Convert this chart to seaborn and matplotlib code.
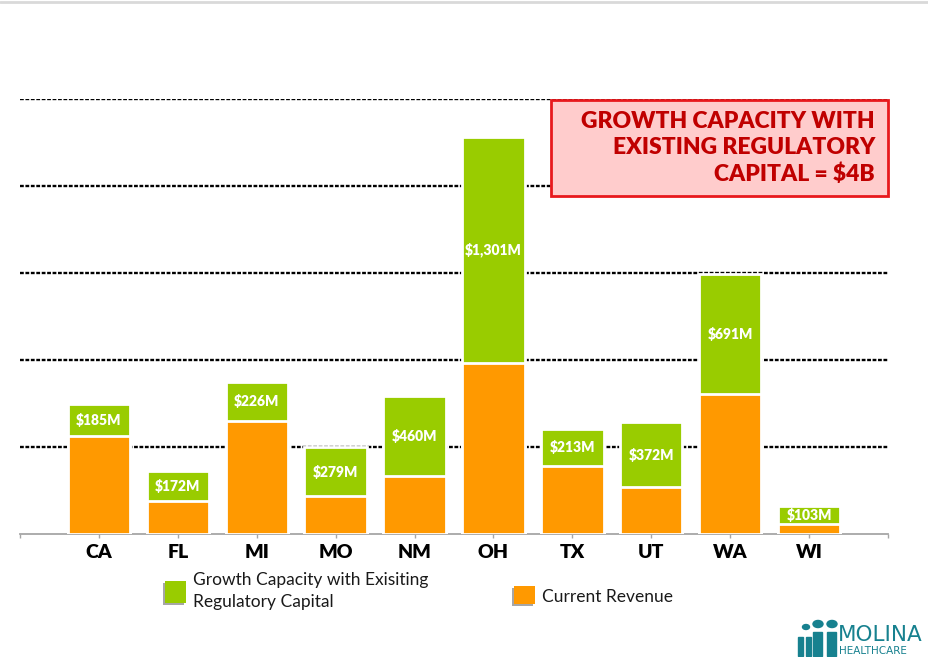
import matplotlib
matplotlib.use("Agg")
import matplotlib.pyplot as plt
import matplotlib.patches as mpatches
import matplotlib.lines as mlines
import seaborn as sns

# data (USD millions)
states = ["CA", "FL", "MI", "MO", "NM", "OH", "TX", "UT", "WA", "WI"]
current_revenue = [563, 190, 650, 219, 333, 983, 391, 270, 805, 58]
growth_capacity = [185, 172, 226, 279, 460, 1301, 213, 372, 691, 103]
growth_labels = ["$185M", "$172M", "$226M", "$279M", "$460M",
                 "$1,301M", "$213M", "$372M", "$691M", "$103M"]
grid_levels = [500, 1000, 1500, 2000, 2500]

GREEN = "#99CC00"
ORANGE = "#FF9900"
W, H = 929, 657

sns.set_style("white")
plt.rcParams["font.family"] = ["Lato", "DejaVu Sans"]

fig = plt.figure(figsize=(W / 100, H / 100), dpi=100)
ax = fig.add_axes([20 / W, 1 - 534 / H, 868 / W, 435 / H])

totals = [r + g for r, g in zip(current_revenue, growth_capacity)]

# green top segment drawn as full height, orange revenue over it
sns.barplot(x=states, y=totals, color=GREEN, saturation=1, width=0.79,
            edgecolor="white", linewidth=2, zorder=3, ax=ax)
sns.barplot(x=states, y=current_revenue, color=ORANGE, saturation=1, width=0.79,
            edgecolor="white", linewidth=2, zorder=4, ax=ax)

for i, (r, g, lab) in enumerate(zip(current_revenue, growth_capacity, growth_labels)):
    ax.text(i, r + g / 2, lab, ha="center", va="center", color="white",
            fontsize=10, fontweight="heavy", zorder=5)

for lvl in grid_levels:
    ax.axhline(lvl, color="black", lw=1.7, ls=(0, (1.6, 0.7)), zorder=1)

ax.set_xlim(-1, 10)
ax.set_ylim(0, 2500)
ax.set_yticks([])
for s in ["left", "right", "top"]:
    ax.spines[s].set_visible(False)
ax.spines["bottom"].set_color("#A6A6A6")
ax.spines["bottom"].set_linewidth(1.3)
ax.spines["bottom"].set_zorder(2)
ax.set_xticks(range(len(states)))
ax.set_xticklabels(states, fontsize=14, fontweight="heavy", color="black")
ax.set_xticks([-1, 10], minor=True)
ax.tick_params(axis="x", which="both", direction="out", length=3, width=1,
               color="#A6A6A6", pad=4, bottom=True)
ax.set_xlabel("")

# callout box
fig.patches.append(mpatches.Rectangle((551 / W, 1 - 196 / H), 337 / W, 96 / H,
                                      transform=fig.transFigure, facecolor="#FFCCCC",
                                      edgecolor="#E8191D", lw=2, zorder=10))
fig.text(875 / W, 1 - 148 / H, "GROWTH CAPACITY WITH\nEXISTING REGULATORY\nCAPITAL = $4B",
         ha="right", va="center", color="#C00000", fontsize=16.5, fontweight="heavy",
         linespacing=1.3, zorder=11)


# legend
def legend_box(x0, y0, w, h, color):
    # grey shadow, offset down-left
    fig.patches.append(mpatches.Rectangle(((x0 - 2) / W, 1 - (y0 + h + 2) / H),
                                          w / W, h / H, transform=fig.transFigure,
                                          facecolor="#A6A6A6", edgecolor="none"))
    fig.patches.append(mpatches.Rectangle((x0 / W, 1 - (y0 + h) / H), w / W, h / H,
                                          transform=fig.transFigure,
                                          facecolor=color, edgecolor="none"))


legend_box(165, 581, 21, 22, GREEN)
legend_box(514, 586, 21, 18, ORANGE)
fig.text(193 / W, 1 - 591 / H, "Growth Capacity with Exisiting\nRegulatory Capital",
         ha="left", va="center", fontsize=12.5, color="#1A1A1A", linespacing=1.4)
fig.text(542 / W, 1 - 597 / H, "Current Revenue", ha="left", va="center",
         fontsize=12.5, color="#1A1A1A")

# logo
TEAL = "#17818F"
for cx, cy, r in [(806, 627, 3.5), (818, 624, 5), (832, 624, 5)]:
    fig.patches.append(mpatches.Circle((cx / W, 1 - cy / H), r / W,
                                       transform=fig.transFigure, color=TEAL))
for x0, x1, y0 in [(798, 803, 637), (806, 811, 637), (813, 822, 632), (827, 836, 632)]:
    fig.patches.append(mpatches.Rectangle((x0 / W, 1 - 656 / H), (x1 - x0) / W,
                                          (656 - y0) / H, transform=fig.transFigure,
                                          color=TEAL))
fig.text(838 / W, 1 - 635 / H, "MOLINA", ha="left", va="center", fontsize=15.5,
         color=TEAL, family=["Liberation Sans Narrow", "DejaVu Sans"])
fig.text(839 / W, 1 - 651 / H, "HEALTHCARE", ha="left", va="center", fontsize=7.5,
         color=TEAL, family=["DejaVu Sans"])

fig.lines.append(mlines.Line2D([0, 1], [1 - 1.5 / H, 1 - 1.5 / H], transform=fig.transFigure,
                               color="#D9D9D9", lw=2))

fig.savefig("out.png", dpi=100)
